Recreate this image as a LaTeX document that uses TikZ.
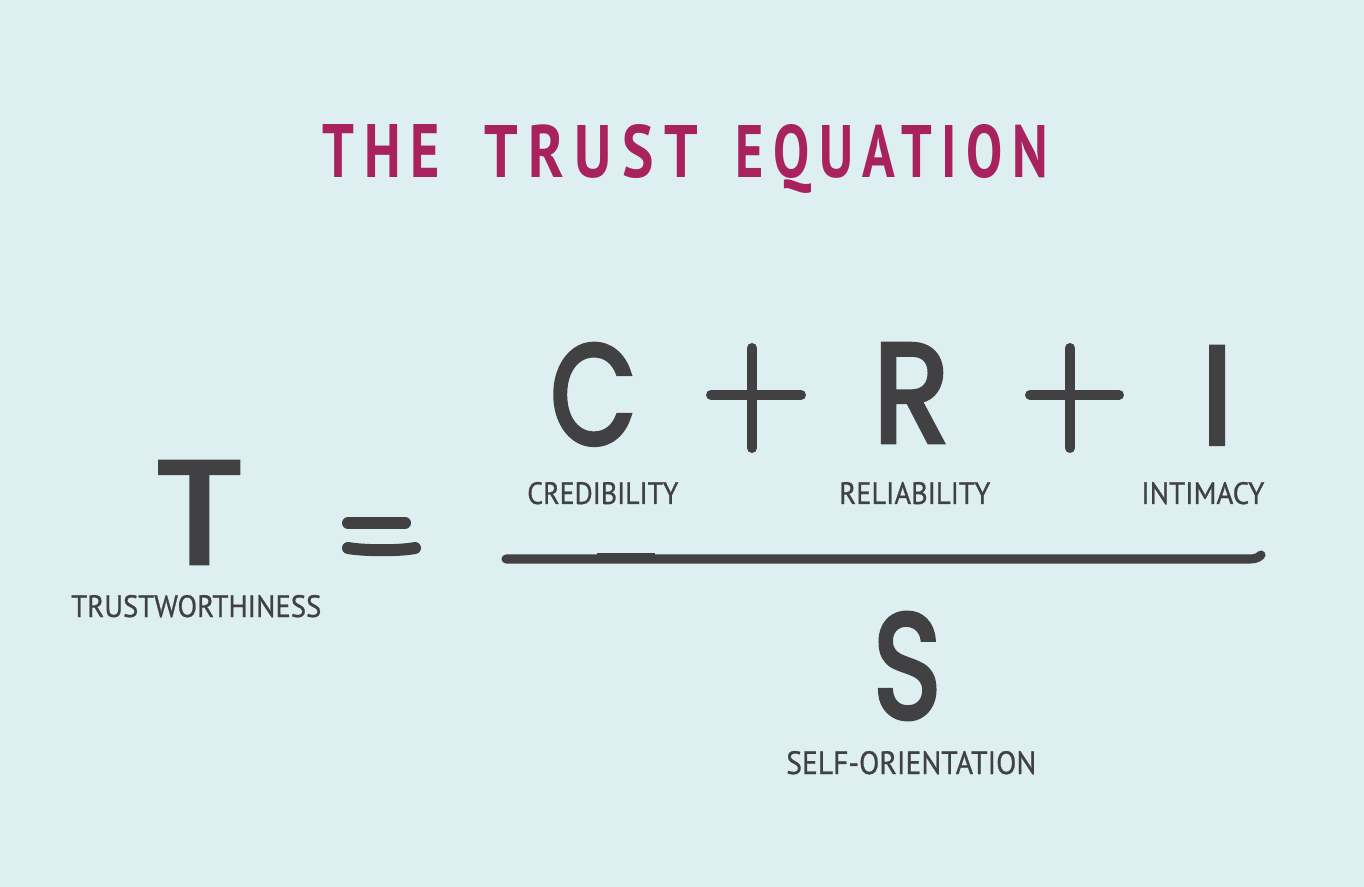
\documentclass[tikz,border=0pt]{standalone}
\usepackage{fontspec}
\usepackage{graphicx}
\setmainfont{PT Sans}
\newfontfamily\bigfont{Poppins}[FakeBold=3.2]
\newfontfamily\lblfont{PT Sans}[FakeBold=0.8]
\definecolor{bg}{HTML}{DDEFF1}
\definecolor{ink}{HTML}{414143}
\definecolor{mag}{HTML}{A8225E}
\newcommand{\fitbox}[3]{\resizebox{\dimexpr #1pt*3/4\relax}{\dimexpr #2pt*3/4\relax}{#3}}
\tikzset{
  lbl/.style={anchor=base west, inner sep=0pt, text=ink, font=\lblfont},
  big/.style={anchor=base west, inner sep=0pt, text=ink, font=\bigfont},
  ttl/.style={anchor=base west, inner sep=0pt, text=mag, font=\bfseries\addfontfeatures{LetterSpace=18}},
  pen/.style={draw=ink, line cap=round, line join=round, line width=7.5pt},
  fracpen/.style={draw=ink, line cap=round, line join=round, line width=6.8pt}
}
\begin{document}
\begin{tikzpicture}[x=0.75pt,y=-0.75pt]
\fill[bg] (0,0) rectangle (1364,887);
\useasboundingbox (0,0) rectangle (1364,887);
% title
\node[ttl] (w1) at (322,178) {\fitbox{118}{53}{THE}};
\node[ttl] (w2) at (484,178) {\fitbox{214}{53}{TRUST}};
\node[ttl] (w3) at (735,178) {\fitbox{313}{53}{EQUATION}};
% big letters
\node[big] (T) at (155,563) {\fitbox{88}{101}{T}};
\node[big] (C) at (550,444) {\fitbox{86}{100}{C}};
\node[big] (R) at (873,442) {\fitbox{76}{98}{R}};
\node[big] (I) at (1201,444) {\fitbox{32}{97}{I}};
\node[big] (S) at (873,718) {\fitbox{68}{105}{S}};
% labels
\node[lbl] (trustw) at (71,617) {\fitbox{250}{22}{TRUSTWORTHINESS}};
\node[lbl] (cred) at (527,504) {\fitbox{151}{22}{CREDIBILITY}};
\node[lbl] (rel) at (839,504) {\fitbox{151}{22}{RELIABILITY}};
\node[lbl] (intim) at (1141,504) {\fitbox{123}{22}{INTIMACY}};
\node[lbl] (self) at (786,774) {\fitbox{250}{23}{SELF-ORIENTATION}};
% plus signs
\draw[pen] (711,395) -- (801,395);
\draw[pen] (752,348) -- (752,448);
\draw[pen] (1030,395) -- (1119,395);
\draw[pen] (1070,348) -- (1070,448);
% equals
\draw[pen, line width=9pt] (348,523) -- (405,523);
\draw[pen, line width=9pt] (348,548) .. controls (365,551) and (400,551) .. (415,548);
% fraction bar
\draw[fracpen] (506,559) -- (1250,559) .. controls (1256,559) and (1259,557) .. (1261,555);
\draw[draw=ink, line width=6.8pt] (597,557.5) -- (655,557.5);
\end{tikzpicture}
\end{document}
